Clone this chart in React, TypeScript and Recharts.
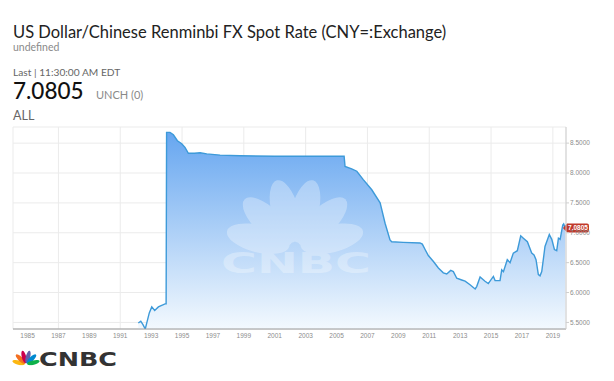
import React from 'react';
import { AreaChart, Area, XAxis, YAxis, CartesianGrid, ReferenceLine } from 'recharts';

// decimal year of each reading
const years = [
  1992.17, 1992.33, 1992.48, 1992.62, 1992.88, 1993.04, 1993.23, 1993.47, 1993.9, 1993.97,
  1994.0, 1994.22, 1994.44, 1994.7, 1994.98, 1995.19, 1995.41, 1995.8, 1996.17, 1996.6,
  1997.46, 1998.75, 2001.0, 2003.0, 2005.49, 2005.55, 2005.98, 2006.31, 2006.73, 2007.28,
  2007.82, 2008.14, 2008.46, 2008.57, 2009.32, 2010.4, 2010.55, 2010.73, 2010.94, 2011.27,
  2011.59, 2011.91, 2012.13, 2012.39, 2012.56, 2012.78, 2013.1, 2013.32, 2013.64, 2013.97,
  2014.07, 2014.29, 2014.61, 2014.82, 2015.15, 2015.26, 2015.58, 2015.69, 2015.8, 2016.05,
  2016.23, 2016.44, 2016.7, 2016.92, 2017.09, 2017.35, 2017.63, 2017.78, 2017.91, 2018.06,
  2018.17, 2018.28, 2018.49, 2018.77, 2018.93, 2019.1, 2019.25, 2019.36, 2019.47, 2019.64,
  2019.7, 2019.8,
];

const rates = [
  5.49, 5.52, 5.46, 5.39, 5.66, 5.76, 5.7, 5.76, 5.81, 5.81,
  8.68, 8.68, 8.64, 8.54, 8.49, 8.43, 8.33, 8.33, 8.34, 8.32,
  8.3, 8.29, 8.28, 8.28, 8.28, 8.11, 8.07, 8.03, 7.89, 7.72,
  7.5, 7.16, 6.88, 6.85, 6.84, 6.83, 6.81, 6.72, 6.62, 6.52,
  6.41, 6.33, 6.31, 6.37, 6.35, 6.24, 6.21, 6.19, 6.13, 6.06,
  6.1, 6.26, 6.19, 6.15, 6.27, 6.2, 6.2, 6.38, 6.35, 6.55,
  6.5, 6.66, 6.7, 6.95, 6.91, 6.85, 6.66, 6.63, 6.55, 6.3,
  6.28, 6.35, 6.77, 6.97, 6.89, 6.72, 6.7, 6.91, 6.89, 7.13,
  7.15, 7.0805,
];

const yearTicks = [1985, 1987, 1989, 1991, 1993, 1995, 1997, 1999, 2001, 2003, 2005, 2007, 2009, 2011, 2013, 2015, 2017, 2019];
const rateTicks = [5.5, 6, 6.5, 7, 7.5, 8, 8.5];
const lastRate = 7.0805;

const chartData = years.map((year, i) => ({ year, rate: rates[i] }));

const featherAngles = [-76, -46, -15, 15, 46, 76];
const logoColors = ['#fcb711', '#f37021', '#cc004c', '#6460aa', '#0089d0', '#0db14b'];
const white = ['#fff', '#fff', '#fff', '#fff', '#fff', '#fff'];

const Peacock = ({ x, y, width, colors, rx }: { x: number; y: number; width: number; colors: string[]; rx: number }) => {
  const height = (width * 80) / 144;
  return (
    <svg x={x} y={y} width={width} height={height} viewBox="-72 -74 144 80">
      {featherAngles.map((a, i) => {
        const r = (a * Math.PI) / 180;
        const cx = Math.sin(r) * 39;
        const cy = -Math.cos(r) * 39;
        return (
          <ellipse key={a} cx={cx} cy={cy} rx={rx} ry={33} transform={`rotate(${a} ${cx} ${cy})`} fill={colors[i]} />
        );
      })}
    </svg>
  );
};

const PriceTag = (props: any) => {
  const { viewBox } = props;
  const x = viewBox.x + viewBox.width - 3;
  const y = viewBox.y;
  return (
    <g>
      <path
        d={`M${x},${y} L${x + 4},${y - 4.5} L${x + 24},${y - 4.5} Q${x + 26},${y - 4.5} ${x + 26},${y - 2.5} L${x + 26},${y + 2.5} Q${x + 26},${y + 4.5} ${x + 24},${y + 4.5} L${x + 4},${y + 4.5} Z`}
        fill="#c0392b"
      />
      <text x={x + 15} y={y + 2.3} textAnchor="middle" fontSize={6.5} fontWeight="bold" fill="#fff" fontFamily="Liberation Sans, Arial, sans-serif">
        {lastRate.toFixed(4)}
      </text>
    </g>
  );
};

export default function App() {
  const font = 'Lato, "Open Sans", sans-serif';
  return (
    <div style={{ position: 'absolute', left: 0, top: 0, width: 614, height: 381, background: '#fff', overflow: 'hidden' }}>
      <svg width={614} height={125} style={{ position: 'absolute', left: 0, top: 0 }} fontFamily={font}>
        <text x={13} y={37.5} fontSize={16.5} fill="#222">US Dollar/Chinese Renminbi FX Spot Rate (CNY=:Exchange)</text>
        <text x={13} y={51} fontSize={10.5} fill="#8a8a8a">undefined</text>
        <text x={13} y={76} fontSize={10.2} fill="#666">Last | 11:30:00 AM EDT</text>
        <text x={13} y={99.3} fontSize={22.5} fill="#111" fontWeight={500}>7.0805</text>
        <text x={96} y={98.5} fontSize={11} fill="#8a8a8a">UNCH (0)</text>
        <text x={13} y={120} fontSize={12.5} fill="#666">ALL</text>
      </svg>

      <div style={{ position: 'absolute', left: 0, top: 0 }}>
        <AreaChart width={614} height={345} data={chartData} margin={{ top: 127, right: 8, bottom: 2, left: 13 }}>
          <defs>
            <linearGradient id="fxFill" x1="0" y1="0" x2="0" y2="1">
              <stop offset="0%" stopColor="#66a6f0" />
              <stop offset="100%" stopColor="#f3f9fe" />
            </linearGradient>
          </defs>
          <CartesianGrid stroke="#ebebeb" strokeWidth={1} />
          <XAxis
            dataKey="year"
            type="number"
            domain={[1984.06, 2019.85]}
            ticks={yearTicks}
            allowDataOverflow
            height={14}
            tickLine={false}
            tickSize={2}
            tickMargin={2}
            stroke="#999"
            tick={{ fontSize: 6.5, fill: '#8c8c8c', fontFamily: 'Liberation Sans, Arial, sans-serif' }}
          />
          <YAxis
            orientation="right"
            width={40}
            type="number"
            domain={[5.39, 8.77]}
            ticks={rateTicks}
            allowDataOverflow
            tickSize={3}
            tickMargin={1}
            stroke="#cfcfcf"
            tickFormatter={(v: number) => v.toFixed(4)}
            tick={{ fontSize: 6.5, fill: '#8c8c8c', fontFamily: 'Liberation Sans, Arial, sans-serif', textAnchor: 'start' }}
          />
          <Area
            type="linear"
            dataKey="rate"
            stroke="#3d9ad9"
            strokeWidth={1.4}
            fill="url(#fxFill)"
            fillOpacity={1}
            isAnimationActive={false}
            dot={false}
            activeDot={false}
          />
          <ReferenceLine y={lastRate} stroke="none" label={<PriceTag />} />
        </AreaChart>
      </div>

      <svg width={614} height={381} style={{ position: 'absolute', left: 0, top: 0, pointerEvents: 'none' }}>
        <g opacity={0.3}>
          <Peacock x={225} y={176} width={140} colors={white} rx={14} />
          <text x={221} y={273} fontSize={28} fontWeight="bold" fill="#fff" fontFamily="DejaVu Sans, sans-serif" textLength={150} lengthAdjust="spacingAndGlyphs">CNBC</text>
        </g>
        <Peacock x={12} y={350} width={28} colors={logoColors} rx={11.5} />
        <text x={39} y={366} fontSize={20} fontWeight="bold" fill="#333" fontFamily="DejaVu Sans, sans-serif" textLength={78} lengthAdjust="spacingAndGlyphs">CNBC</text>
      </svg>
    </div>
  );
}
